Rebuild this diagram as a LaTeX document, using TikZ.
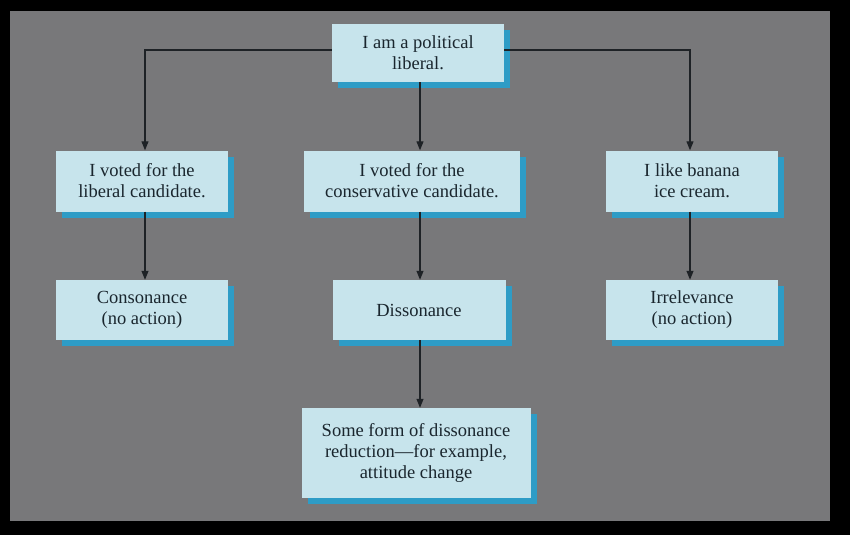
\documentclass[tikz,border=0pt]{standalone}
\usepackage{fontspec}
\setmainfont{Liberation Serif}
\usetikzlibrary{arrows.meta,shadows}
\definecolor{bgc}{HTML}{78787A}
\definecolor{boxc}{HTML}{C7E4EC}
\definecolor{shc}{HTML}{2E9CC6}
\definecolor{txc}{HTML}{1A262E}
\definecolor{arc}{HTML}{1E2226}
\tikzset{
  x=1pt, y=-1pt,
  card/.style={fill=boxc, text=txc, align=center, inner sep=0pt,
    font=\fontsize{18.5}{21}\selectfont,
    drop shadow={shadow xshift=6pt, shadow yshift=-6pt, fill=shc, opacity=1}},
  conn/.style={arc, line width=1.1pt, -{Triangle[length=9pt,width=7pt]}}
}
\begin{document}
\begin{tikzpicture}
\fill[black] (0,0) rectangle (850,535);
\fill[bgc] (10,11) rectangle (830,521);
\useasboundingbox (0,0) rectangle (850,535);
\newcommand{\card}[6]{\node[card, minimum width=#4pt, minimum height=#5pt] (#1) at (#2,#3) {#6};}
\card{top}{418}{53}{172}{58}{I am a political\\liberal.}
\card{a}{142}{181}{172}{61}{I voted for the\\liberal candidate.}
\card{b}{412}{181}{216}{61}{I voted for the\\conservative candidate.}
\card{c}{692}{181}{172}{61}{I like banana\\ice cream.}
\card{d}{142}{310}{172}{60}{Consonance\\(no action)}
\card{e}{419}{310}{173}{60}{Dissonance}
\card{f}{692}{310}{172}{60}{Irrelevance\\(no action)}
\card{g}{416}{453}{229}{90}{Some form of dissonance\\reduction---for example,\\attitude change}
\coordinate (tl) at (145,50);
\coordinate (tr) at (690,50);
\draw[conn] (top.west |- tl) -| (a.north -| tl);
\draw[conn] (top.east |- tr) -| (c.north -| tr);
\draw[conn] (top.south -| 420,0) -- (b.north -| 420,0);
\draw[conn] (a.south -| tl) -- (d.north -| tl);
\draw[conn] (b.south -| 420,0) -- (e.north -| 420,0);
\draw[conn] (c.south -| tr) -- (f.north -| tr);
\draw[conn] (e.south -| 420,0) -- (g.north -| 420,0);
\end{tikzpicture}
\end{document}
